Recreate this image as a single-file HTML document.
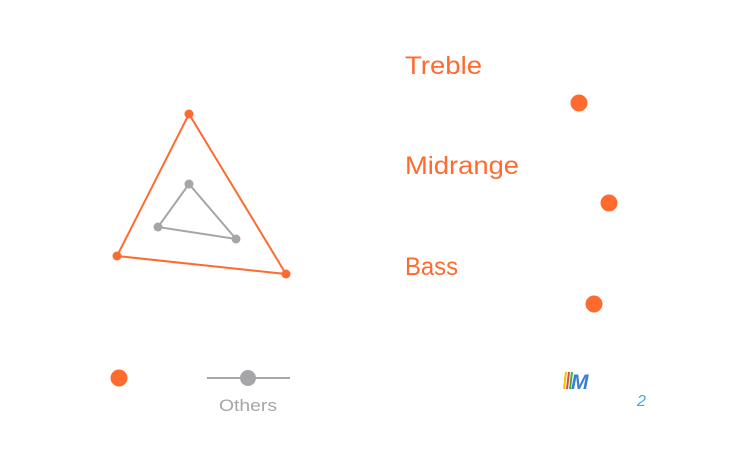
<!DOCTYPE html>
<html><head><style>
body{margin:0;width:740px;height:450px;background:#fff;overflow:hidden;font-family:"Liberation Sans",sans-serif}
</style></head><body>
<svg width="740" height="450" xmlns="http://www.w3.org/2000/svg">
<polygon points="189,114 117,256 286,274" fill="none" stroke="#ff6a2f" stroke-width="2"/>
<circle cx="189" cy="114" r="4.5" fill="#ff6a2f"/>
<circle cx="117" cy="256" r="4.5" fill="#ff6a2f"/>
<circle cx="286" cy="274" r="4.5" fill="#ff6a2f"/>
<polygon points="189,184 158,227 236,239" fill="none" stroke="#a6a6a9" stroke-width="2"/>
<circle cx="189" cy="184" r="4.5" fill="#a6a6a9"/>
<circle cx="158" cy="227" r="4.5" fill="#a6a6a9"/>
<circle cx="236" cy="239" r="4.5" fill="#a6a6a9"/>
<g font-size="25" fill="#ff6a2f">
<text x="405" y="74" textLength="77" lengthAdjust="spacingAndGlyphs">Treble</text>
<text x="405" y="174" textLength="114" lengthAdjust="spacingAndGlyphs">Midrange</text>
<text x="405" y="275" textLength="53" lengthAdjust="spacingAndGlyphs">Bass</text>
</g>
<circle cx="579" cy="103" r="8.5" fill="#ff6a2f"/>
<circle cx="609" cy="203" r="8.5" fill="#ff6a2f"/>
<circle cx="594" cy="304" r="8.5" fill="#ff6a2f"/>
<circle cx="119" cy="378" r="8.5" fill="#ff6a2f"/>
<line x1="207" y1="378" x2="290" y2="378" stroke="#a6a6a9" stroke-width="2"/>
<circle cx="248" cy="378" r="8" fill="#a6a6a9"/>
<text x="248" y="411" font-size="17" fill="#a6a6a9" text-anchor="middle" textLength="58" lengthAdjust="spacingAndGlyphs">Others</text>
<g stroke-width="2">
<line x1="564" y1="389" x2="566" y2="372" stroke="#f2c400"/>
<line x1="567" y1="389" x2="569" y2="372" stroke="#e8433c"/>
<line x1="570" y1="389" x2="572" y2="372" stroke="#3bb24a"/>
</g>
<text x="571" y="389" font-size="21" font-style="italic" font-weight="bold" fill="#3b7fd1">M</text>
<text x="637" y="406" font-size="16" font-style="italic" fill="#4aa3e0">2</text>
</svg>
</body></html>
